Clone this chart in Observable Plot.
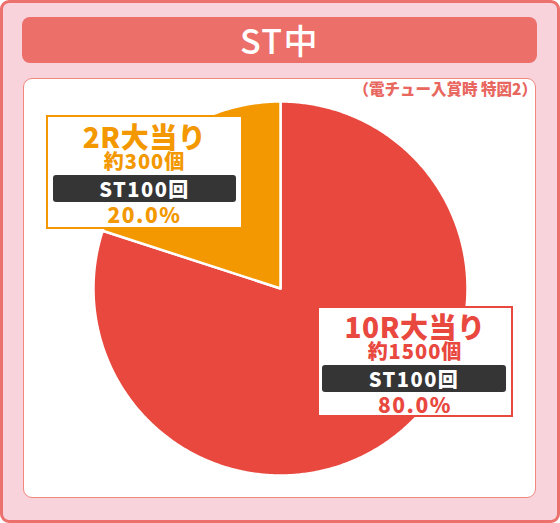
<!DOCTYPE html>
<html><head><meta charset="utf-8">
<script src="https://cdn.jsdelivr.net/npm/d3@7"></script>
<script src="https://cdn.jsdelivr.net/npm/@observablehq/plot@0.6"></script>
<style>
body{margin:0;background:#fff;font-family:"Noto Sans CJK JP","Noto Sans",sans-serif;}
#wrap{position:relative;width:560px;height:523px;overflow:hidden;}
.frame{position:absolute;left:0;top:0;width:560px;height:523px;box-sizing:border-box;border:3px solid #ec706b;border-radius:9px;background:#f9d3dc;}
.title{position:absolute;left:22px;top:17px;width:515px;height:46px;background:#ec6f69;border-radius:8px;color:#fff;font-size:34px;font-weight:500;text-align:center;line-height:46px;letter-spacing:1.5px;}
.panel{position:absolute;left:23px;top:78px;width:513px;height:420px;box-sizing:border-box;background:#fff;border:1.5px solid #f2877f;border-radius:9px;}
.note{position:absolute;right:23px;top:79px;color:#e8675f;font-size:15.5px;font-weight:900;line-height:18px;white-space:nowrap;}
#chart{position:absolute;left:0;top:0;}
.box{position:absolute;box-sizing:border-box;background:#fff;border:2.5px solid;}
.box div{position:absolute;left:0;right:0;text-align:center;font-weight:900;white-space:nowrap;}
.box .t{font-size:28px;line-height:28px;letter-spacing:0.5px;}
.box .c{font-size:20px;line-height:20px;letter-spacing:1px;}
.box .b{background:#353535;color:#fff;border-radius:3px;font-size:20px;line-height:27px;height:27px;letter-spacing:1.5px;}
.box .p{font-size:21px;line-height:22px;letter-spacing:1.5px;}
</style></head>
<body>
<div id="wrap">
  <div class="frame"></div>
  <div class="title">ST中</div>
  <div class="panel"></div>
  <div class="note">（電チュー入賞時 特図2）</div>
</div>
<script>
const categories = ["10R大当り", "2R大当り"];
const counts = ["約1500個", "約300個"];
const stLabels = ["ST100回", "ST100回"];
const shares = [80, 20];
const colors = ["#e9483f", "#f39800"];

const arcs = d3.pie().sort(null).value(d => d)(shares);
const points = [];
arcs.forEach((a, i) => {
  points.push({cat: categories[i], x: 0, y: 0});
  const n = Math.max(2, Math.ceil((a.endAngle - a.startAngle) / (Math.PI / 360)));
  for (let k = 0; k <= n; k++) {
    const t = a.startAngle + (a.endAngle - a.startAngle) * k / n;
    points.push({cat: categories[i], x: Math.sin(t), y: Math.cos(t)});
  }
});

const chart = Plot.plot({
  width: 560, height: 523, margin: 0,
  x: {domain: [-1, 1], range: [93, 467], axis: null},
  y: {domain: [-1, 1], range: [475, 101], axis: null},
  color: {domain: categories, range: colors},
  style: {background: "transparent"},
  marks: [
    Plot.line(points, {x: "x", y: "y", z: "cat", fill: "cat", stroke: "#fff", strokeWidth: 2.5, strokeLinejoin: "round", curve: "linear-closed"})
  ]
});
chart.id = "chart";
const wrap = document.getElementById("wrap");
wrap.insertBefore(chart, wrap.querySelector(".note"));

// label boxes (layout of the annotation callouts)
const boxes = [
  {i: 0, left: 317, top: 306, w: 196, h: 111, tt: 3.5, ct: 32.5, bl: 3, bt: 56.5, bw: 184, pt: 84.5},
  {i: 1, left: 46, top: 115, w: 197, h: 114, tt: 4.5, ct: 33.5, bl: 5, bt: 57.5, bw: 183, pt: 86}
];
boxes.forEach(b => {
  const col = colors[b.i];
  const el = document.createElement("div");
  el.className = "box";
  Object.assign(el.style, {left: b.left + "px", top: b.top + "px", width: b.w + "px", height: b.h + "px", borderColor: col});
  const mk = (cls, txt, top, extra) => {
    const d = document.createElement("div");
    d.className = cls; d.textContent = txt; d.style.top = top + "px";
    if (cls !== "b") d.style.color = col;
    Object.assign(d.style, extra || {});
    el.appendChild(d);
  };
  mk("t", categories[b.i], b.tt);
  mk("c", counts[b.i], b.ct);
  mk("b", stLabels[b.i], b.bt, {left: b.bl + "px", right: "auto", width: b.bw + "px"});
  mk("p", shares[b.i].toFixed(1) + "%", b.pt);
  wrap.appendChild(el);
});
</script>
</body></html>
